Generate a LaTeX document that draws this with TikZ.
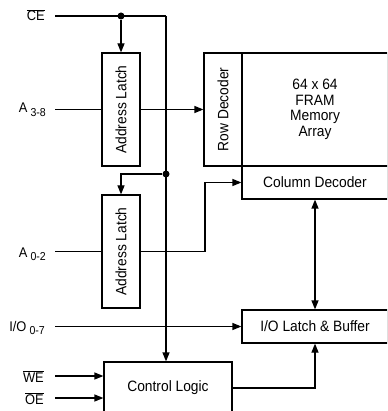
\documentclass[tikz,border=0pt]{standalone}
\usepackage{fontspec}
\usepackage{graphicx}
\setmainfont{Liberation Sans}[FakeStretch=0.92]
\usetikzlibrary{arrows.meta}

\newcommand{\boxfont}{\fontsize{15}{15.5}\selectfont}
\newcommand{\sigfont}{\fontsize{14}{15}\selectfont}
\newcommand{\sublab}[1]{\hspace{3pt}\raisebox{-3.5pt}{\fontsize{11.5}{12}\selectfont #1}}

\begin{document}
\begin{tikzpicture}[
  x=1pt, y=-1pt,
  every node/.style={align=center, font=\boxfont},
  block/.style={rectangle, draw=black, line width=1.2pt, inner sep=0pt},
  tall/.style={block, minimum width=38pt, minimum height=113pt},
  wide/.style={block, minimum width=146pt, minimum height=33pt},
  sig/.style={font=\sigfont, inner sep=0pt, anchor=base east},
  junction/.style={circle, fill=black, inner sep=0pt, minimum size=7pt},
  wire/.style={line width=1.2pt},
  arrow/.style={wire, -{Triangle[length=9pt, width=7pt]}},
  dblarrow/.style={wire, {Triangle[length=9pt, width=7pt]}-{Triangle[length=9pt, width=7pt]}}
]
\useasboundingbox (0,0) rectangle (387,411);
\clip (0,0) rectangle (387,411);

% --- LATCHES AND MEMORY ---
\node[tall] (latchhi) at (121,109.5) {\rotatebox{90}{Address Latch}};
\node[tall] (latchlo) at (121,251.5) {\rotatebox{90}{Address Latch}};
\node[tall] (rowdec) at (223,109.5) {\rotatebox{90}{Row Decoder}};
\node[block, minimum width=146pt, minimum height=113pt] (array) at (315,109.5) {64 x 64\\FRAM\\Memory\\Array};
\node[wide] (coldec) at (315,182.5) {Column Decoder};
\node[wide] (iolatch) at (315,326.5) {I/O Latch \& Buffer};
\node[block, minimum width=128pt, minimum height=52pt] (ctrl) at (168,388) {Control Logic};

% --- SIGNAL NAMES ---
\node[sig] (celab) at (45,21) {$\overline{\mbox{CE}}$};
\node[sig] (ahilab) at (46,113) {A\sublab{3-8}};
\node[sig] (alolab) at (46,257) {A\sublab{0-2}};
\node[sig] (iolab) at (45,331) {I/O\sublab{0-7}};
\node[sig] (welab) at (44,382) {$\overline{\mbox{WE}}$};
\node[sig] (oelab) at (44,404) {$\overline{\mbox{OE}}$};

\coordinate (cein) at (55,16);
\coordinate (ahiin) at (55,109.5);
\coordinate (aloin) at (55,251.5);
\coordinate (ioin) at (55,326.5);
\coordinate (wein) at (55,376);
\coordinate (oein) at (55,398);
\coordinate (cecorner) at (166,16);
\coordinate (colturn) at (205,182.5);
\node[junction] (dotce) at (121,16) {};
\node[junction] (dotlo) at (166,174) {};

% --- CHIP ENABLE ---
\draw[wire] (cein) -- (cecorner);
\draw[arrow] (cecorner) -- (cecorner |- ctrl.north);
\draw[arrow] (dotce) -- (latchhi.north);
\draw[arrow] (dotlo) -| (latchlo.north);

% --- ADDRESS PATHS ---
\draw[wire] (ahiin) -- (latchhi.west);
\draw[arrow] (latchhi.east) -- (rowdec.west);
\draw[wire] (aloin) -- (latchlo.west);
\draw[arrow] (latchlo.east) -| (colturn) -- (coldec.west);

% --- DATA AND CONTROL ---
\draw[arrow] (ioin) -- (iolatch.west);
\draw[dblarrow] (coldec.south) -- (iolatch.north);
\draw[arrow] (wein) -- (wein -| ctrl.west);
\draw[arrow] (oein) -- (oein -| ctrl.west);
\draw[arrow] (ctrl.east) -| (iolatch.south);

\end{tikzpicture}
\end{document}
